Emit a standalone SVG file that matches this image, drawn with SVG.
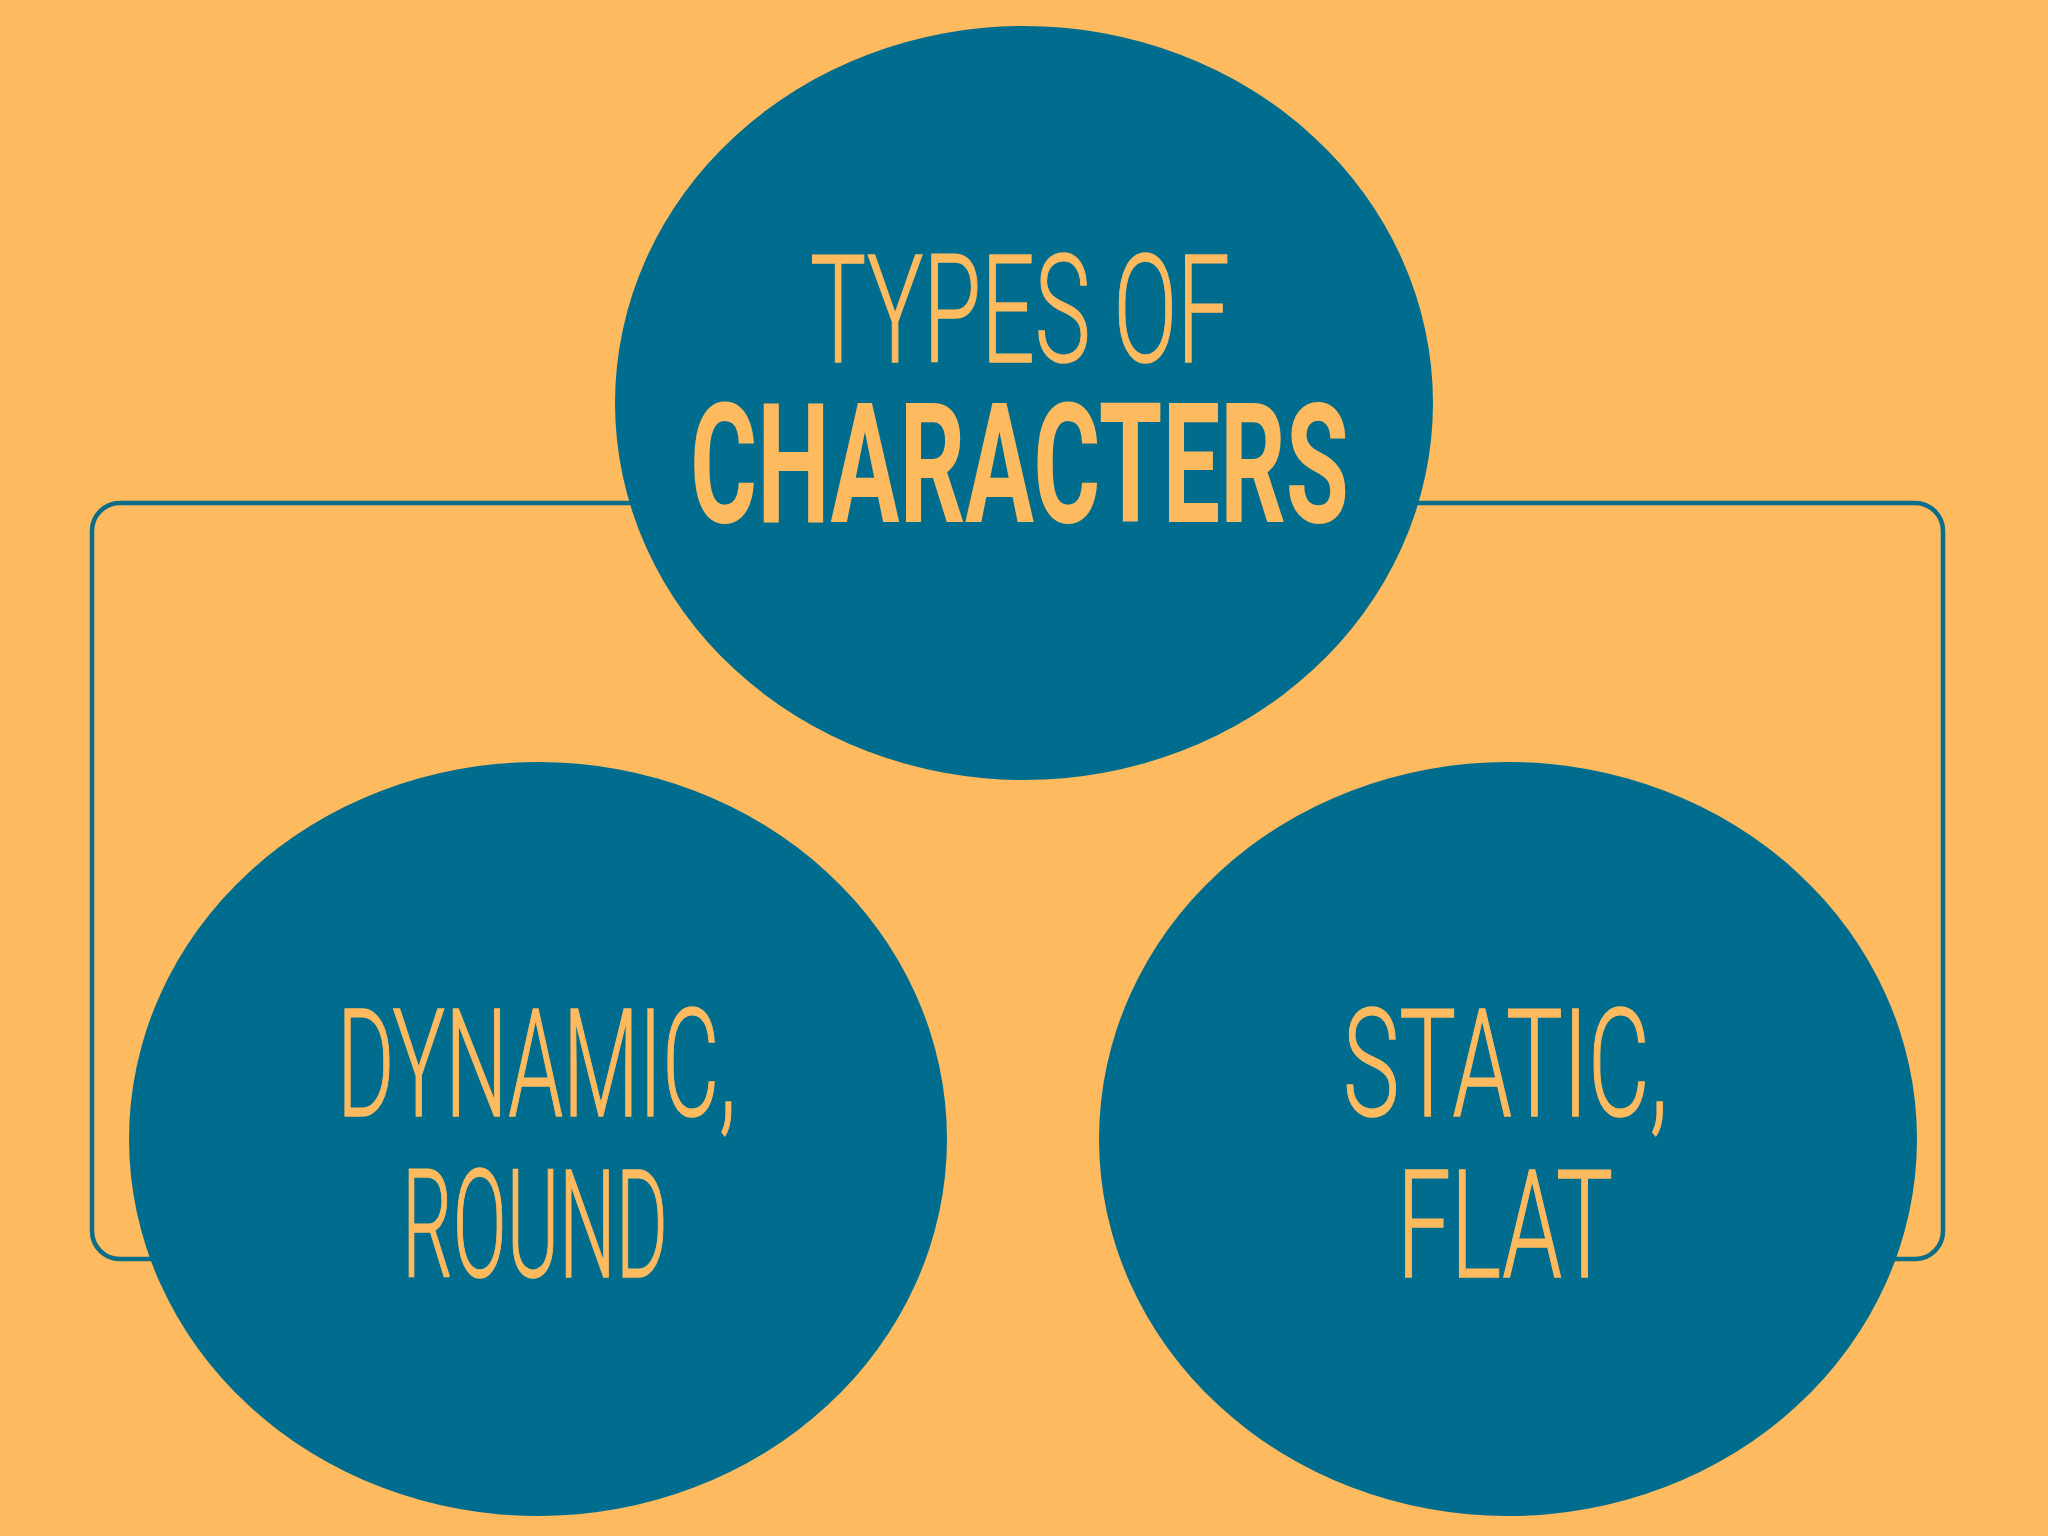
<svg xmlns="http://www.w3.org/2000/svg" width="2048" height="1536" viewBox="0 0 2048 1536">
<style>
.bg{fill:#FDBA5F}
.node{fill:#016D8E}
.conn{fill:none;stroke:#0B6D88;stroke-width:4.5}
.lt{fill:#FDBA5F;stroke:#FDBA5F;stroke-width:1.5;font-family:Roboto,"Liberation Sans",sans-serif;font-weight:300;font-size:150px}
.bd{fill:#FDBA5F;font-family:Roboto,"Liberation Sans",sans-serif;font-weight:700;font-size:167px}
</style>
<rect class="bg" x="0" y="0" width="2048" height="1536"/>
<g id="connectors">
<path class="conn" d="M700,503 H120 A28,28 0 0 0 92,531 V1231 A28,28 0 0 0 120,1259 H200"/>
<path class="conn" d="M1350,503 H1915 A28,28 0 0 1 1943,531 V1231 A28,28 0 0 1 1915,1259 H1850"/>
</g>
<g id="node-types">
<ellipse class="node" cx="1024" cy="403" rx="409" ry="377"/>
<text class="lt" x="810" y="362" textLength="420" lengthAdjust="spacingAndGlyphs">TYPES OF</text>
<text class="bd" x="690" y="522" textLength="659" lengthAdjust="spacingAndGlyphs">CHARACTERS</text>
</g>
<g id="node-dynamic">
<ellipse class="node" cx="538" cy="1139" rx="409" ry="377"/>
<text class="lt" x="337" y="1116" textLength="399" lengthAdjust="spacingAndGlyphs">DYNAMIC,</text>
<text class="lt" x="402" y="1277" textLength="266" lengthAdjust="spacingAndGlyphs">ROUND</text>
</g>
<g id="node-static">
<ellipse class="node" cx="1508" cy="1139" rx="409" ry="377"/>
<text class="lt" x="1343" y="1116" textLength="325" lengthAdjust="spacingAndGlyphs">STATIC,</text>
<text class="lt" x="1397" y="1277" textLength="216" lengthAdjust="spacingAndGlyphs">FLAT</text>
</g>
</svg>
